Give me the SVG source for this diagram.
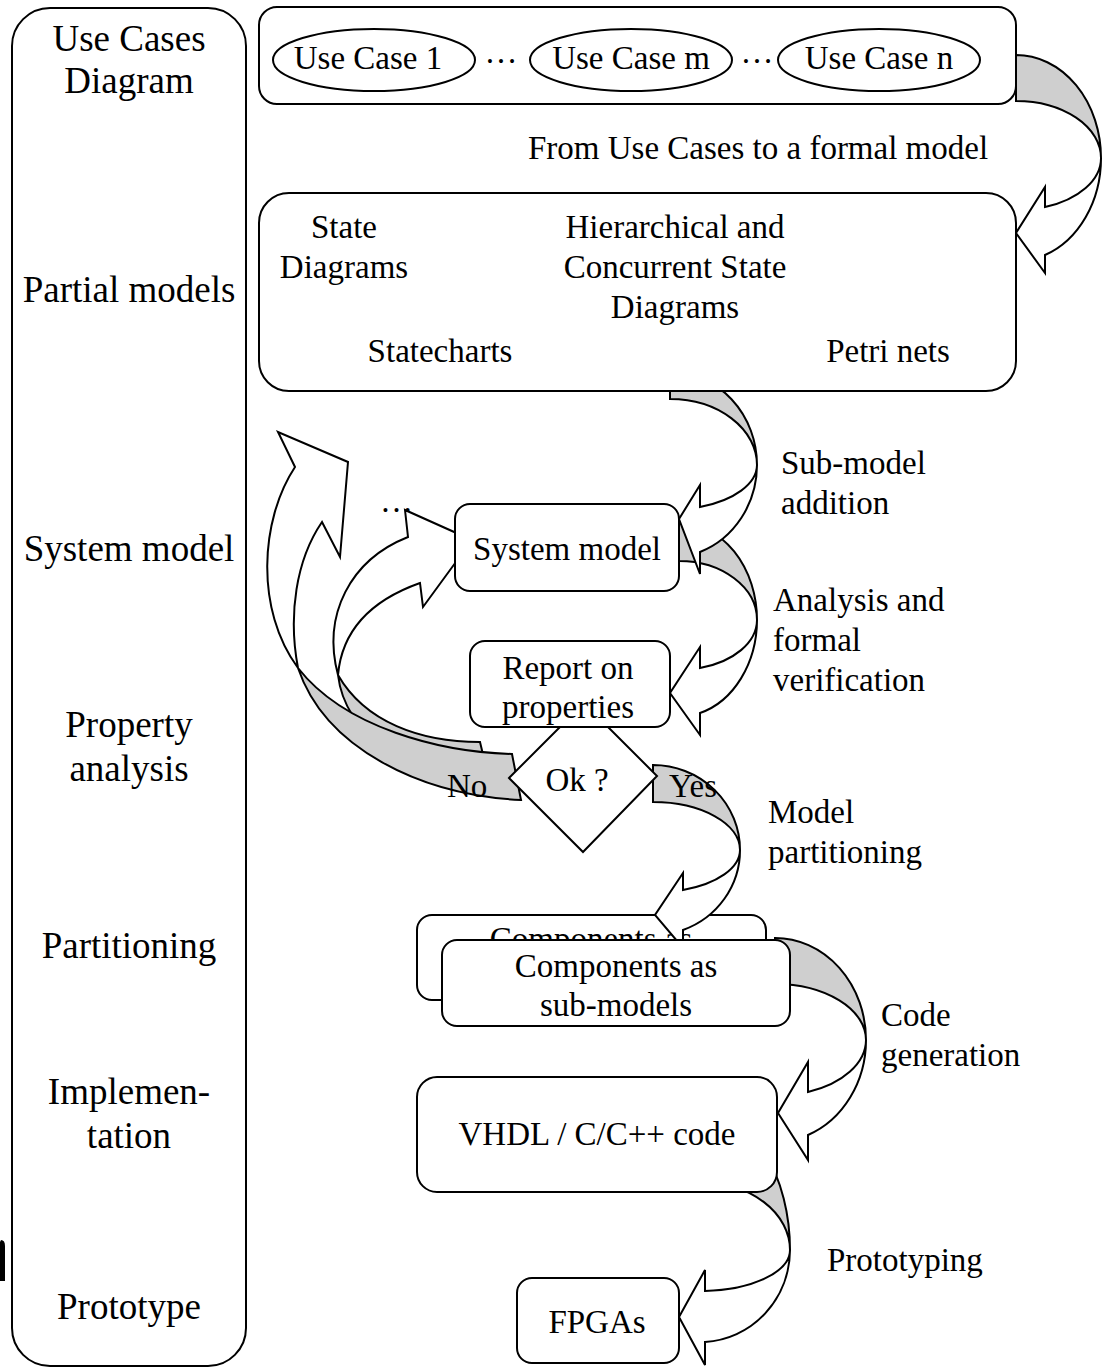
<svg xmlns="http://www.w3.org/2000/svg" width="1109" height="1371" viewBox="0 0 1109 1371">
  <style>
    .box { fill: #ffffff; stroke: #000000; stroke-width: 2; }
    .back { fill: #cfcfcf; stroke: #000000; stroke-width: 2; stroke-linejoin: miter; }
    .front { fill: #ffffff; stroke: #000000; stroke-width: 2; stroke-linejoin: miter; }
    .lbl { font-family: "Liberation Serif", "Times New Roman", serif; font-size: 33px; fill: #000000; }
    .side { font-family: "Liberation Serif", "Times New Roman", serif; font-size: 37px; fill: #000000; text-anchor: middle; }
    .mid { text-anchor: middle; }
  </style>

  <!-- left column of phase names -->
  <g id="phases">
    <rect class="box" x="12" y="8" width="234" height="1358" rx="38" ry="38"/>
    <text class="side" x="129" y="51">Use Cases</text>
    <text class="side" x="129" y="93">Diagram</text>
    <text class="side" x="129" y="302">Partial models</text>
    <text class="side" x="129" y="561">System model</text>
    <text class="side" x="129" y="737">Property</text>
    <text class="side" x="129" y="781">analysis</text>
    <text class="side" x="129" y="958">Partitioning</text>
    <text class="side" x="129" y="1104">Implemen-</text>
    <text class="side" x="129" y="1148">tation</text>
    <text class="side" x="129" y="1319">Prototype</text>
  </g>
  <path d="M0,1242 L1,1240 Q5,1240 5,1246 L5,1281 L0,1281 Z" fill="#000000"/>

  <!-- use cases -->
  <g id="use-cases">
    <rect class="box" x="259" y="7" width="757" height="97" rx="18" ry="18"/>
    <ellipse class="box" cx="374" cy="60" rx="101" ry="31"/>
    <ellipse class="box" cx="631" cy="60" rx="101" ry="31"/>
    <ellipse class="box" cx="879" cy="60" rx="101" ry="31"/>
    <text class="lbl mid" x="368" y="69">Use Case 1</text>
    <text class="lbl mid" x="501" y="63">…</text>
    <text class="lbl mid" x="631" y="69">Use Case m</text>
    <text class="lbl mid" x="757" y="63">…</text>
    <text class="lbl mid" x="879" y="69">Use Case n</text>
  </g>

  <!-- back copy of the components box sits under the partitioning arrow -->
  <g id="components-back">
    <rect class="box" x="417" y="915" width="349" height="85" rx="15" ry="15"/>
    <text class="lbl mid" x="591" y="950">Components as</text>
  </g>

  <!-- curved flow arrows: grey back face, white front face with head -->
  <g id="connectors">
    <g id="arrow-formal-model">
      <path class="back" d="M1016,55 A85,103 0 0 1 1101,158 A85,57 0 0 0 1016,101 Z"/>
      <path class="front" d="M1101,158 A85,103 0 0 1 1045,255 L1045,273 L1016,233 L1045,187 L1045,207 A85,52 0 0 0 1101,158 Z"/>
    </g>
    <g id="arrow-analysis">
      <path class="back" d="M679,523 A78,97 0 0 1 757,620 A78,59 0 0 0 679,561 Z"/>
      <path class="front" d="M757,620 A78,97 0 0 1 700,713 L700,735 L670,693 L700,647 L700,668 A78,50 0 0 0 757,620 Z"/>
    </g>
    <g id="arrow-submodel">
      <path class="back" d="M670,372 A87,93 0 0 1 757,465 A87,66 0 0 0 670,399 Z"/>
      <path class="front" d="M757,465 A87,93 0 0 1 700,552 L700,574 L679,519 L700,485 L700,507 A87,45 0 0 0 757,465 Z"/>
    </g>
    <g id="arrow-retry-inner">
      <path class="back" d="M480,742 C420,742 365,722 338,675 C345,735 410,778 492,792 Z"/>
      <path class="front" d="M338,675 C322,615 350,560 408,537 L405,510 L472,540 L423,607 L420,583 C372,600 342,630 338,675 Z"/>
    </g>
    <g id="arrow-retry-outer">
      <path class="back" d="M512,754 C440,752 345,728 298,668 C325,748 420,795 521,800 Z"/>
      <path class="front" d="M298,668 C255,610 260,520 295,467 L278,432 L348,462 L340,557 L322,522 C296,560 288,615 298,668 Z"/>
      <text class="lbl" x="447" y="797">No</text>
    </g>
    <g id="arrow-partitioning">
      <path class="back" d="M653,765 A87,85 0 0 1 740,850 A87,48 0 0 0 653,802 Z"/>
      <path class="front" d="M740,850 A87,85 0 0 1 683,930 L683,948 L655,915 L683,873 L683,890 A87,42.6 0 0 0 740,850 Z"/>
      <text class="lbl" x="669" y="797">Yes</text>
    </g>
    <g id="arrow-codegen">
      <path class="back" d="M775,938 A91,102 0 0 1 866,1040 A91,56 0 0 0 775,984 Z"/>
      <path class="front" d="M866,1040 A91,102 0 0 1 808,1135 L808,1160 L778,1113 L808,1062 L808,1092 A91,56 0 0 0 866,1040 Z"/>
    </g>
    <g id="arrow-prototyping">
      <path class="back" d="M700,1110 A90,140 0 0 1 790,1250 A90,68 0 0 0 700,1182 Z"/>
      <path class="front" d="M790,1250 A90,92.6 0 0 1 705,1342 L705,1365 L679,1317 L705,1270 L705,1291 A90,41 0 0 0 790,1250 Z"/>
    </g>
    <text class="lbl" x="528" y="159">From Use Cases to a formal model</text>
    <text class="lbl" x="781" y="474">Sub-model</text>
    <text class="lbl" x="781" y="514">addition</text>
    <text class="lbl" x="773" y="611">Analysis and</text>
    <text class="lbl" x="773" y="651">formal</text>
    <text class="lbl" x="773" y="691">verification</text>
    <text class="lbl" x="768" y="823">Model</text>
    <text class="lbl" x="768" y="863">partitioning</text>
    <text class="lbl" x="881" y="1026">Code</text>
    <text class="lbl" x="881" y="1066">generation</text>
    <text class="lbl" x="827" y="1271">Prototyping</text>
    <text class="lbl" x="380" y="512">…</text>
  </g>

  <g id="partial-models">
    <rect class="box" x="259" y="193" width="757" height="198" rx="30" ry="30"/>
    <text class="lbl mid" x="344" y="238">State</text>
    <text class="lbl mid" x="344" y="278">Diagrams</text>
    <text class="lbl mid" x="675" y="238">Hierarchical and</text>
    <text class="lbl mid" x="675" y="278">Concurrent State</text>
    <text class="lbl mid" x="675" y="318">Diagrams</text>
    <text class="lbl mid" x="440" y="362">Statecharts</text>
    <text class="lbl mid" x="888" y="362">Petri nets</text>
  </g>

  <g id="system-model">
    <rect class="box" x="455" y="504" width="224" height="87" rx="15" ry="15"/>
    <text class="lbl mid" x="567" y="560">System model</text>
  </g>

  <g id="ok-decision">
    <polygon class="box" points="584,703 657,776 583,852 509,778"/>
    <text class="lbl mid" x="577" y="791">Ok ?</text>
  </g>

  <g id="report">
    <rect class="box" x="470" y="641" width="200" height="86" rx="15" ry="15"/>
    <text class="lbl mid" x="568" y="679">Report on</text>
    <text class="lbl mid" x="568" y="718">properties</text>
  </g>

  <g id="components">
    <rect class="box" x="442" y="940" width="348" height="86" rx="15" ry="15"/>
    <text class="lbl mid" x="616" y="977">Components as</text>
    <text class="lbl mid" x="616" y="1016">sub-models</text>
  </g>

  <g id="code">
    <rect class="box" x="417" y="1077" width="360" height="115" rx="20" ry="20"/>
    <text class="lbl mid" x="597" y="1145">VHDL / C/C++ code</text>
  </g>

  <g id="fpgas">
    <rect class="box" x="517" y="1278" width="162" height="85" rx="15" ry="15"/>
    <text class="lbl mid" x="597" y="1333">FPGAs</text>
  </g>
</svg>
